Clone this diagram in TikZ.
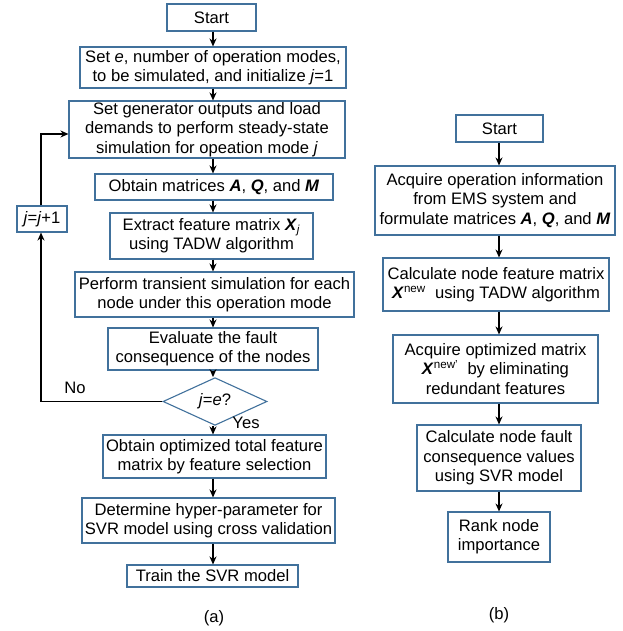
\documentclass[tikz,border=0pt]{standalone}
\usepackage{fontspec}
\setmainfont{Liberation Sans}
\usetikzlibrary{shapes.geometric,arrows.meta}
\definecolor{boxblue}{RGB}{65,113,156}
\newcommand{\bi}[1]{\textbf{\textit{#1}}}
\begin{document}
\begin{tikzpicture}[x=1pt,y=-1pt,
  txt/.style={font={\fontsize{16.6}{19.4}\selectfont}},
  box/.style={txt,draw=boxblue,line width=1.1pt,align=center,inner sep=0pt,fill=white},
  dia/.style={txt,draw=boxblue,line width=1.1pt,diamond,inner sep=0pt,fill=white},
  arr/.style={draw=black,line width=1.1pt,-{Stealth[length=8pt,width=7pt]}}]
\useasboundingbox (0,0) rectangle (622,631);
% left column
\coordinate (spine) at (213,0);
\node[box,minimum width=89,minimum height=27] (a1) at (211.5,17.5) {Start};
\node[box,minimum width=266,minimum height=41] (a2) at (213,67.5) {Set \textit{e}, number of operation modes,\\to be simulated, and initialize \textit{j}=1};
\node[box,minimum width=276,minimum height=57] (a3) at (207,129.5) {Set generator outputs and load\\demands to perform steady-state\\simulation for opeation mode \textit{j}};
\node[box,minimum width=238,minimum height=26] (a4) at (214,187) {Obtain matrices \bi{A}, \bi{Q}, and \bi{M}};
\node[box,minimum width=203,minimum height=46] (a5) at (211.5,236) {Extract feature matrix \bi{X}\textsubscript{\textit{j}}\\using TADW algorithm};
\node[box,minimum width=279,minimum height=45] (a6) at (214.5,294.5) {Perform transient simulation for each\\node under this operation mode};
\node[box,minimum width=210,minimum height=42] (a7) at (213,349) {Evaluate the fault\\consequence of the nodes};
\node[dia,minimum width=104,minimum height=29] (d) at (215,401.5) {\textit{j}=\textit{e}?};
\node[box,minimum width=223,minimum height=43] (a8) at (214.5,456.5) {Obtain optimized total feature\\matrix by feature selection};
\node[box,minimum width=253,minimum height=45] (a9) at (208.5,520.5) {Determine hyper-parameter for\\SVR model using cross validation};
\node[box,minimum width=171,minimum height=22] (a10) at (212.5,576) {Train the SVR model};
\node[box,minimum width=50,minimum height=26] (jb) at (42,219) {\textit{j}=\textit{j}+1};
\node[txt] (no) at (75,388) {No};
\node[txt] (yes) at (246,423) {Yes};
\node[txt] (la) at (214,618) {(a)};
\foreach \u/\v in {a1/a2,a2/a3,a3/a4,a4/a5,a5/a6,a6/a7,a7/d,d/a8,a8/a9,a9/a10}
  \draw[arr] (\u.south -| spine) -- (\v.north -| spine);
\coordinate (c1) at (41,401.5);
\coordinate (c2) at (41,134);
\draw[arr] (d.west) -- (c1) -- (jb.south -| c1);
\draw[arr] (jb.north -| c2) -- (c2) -- (c2 -| a3.west);
% right column
\coordinate (rspine) at (499,0);
\node[box,minimum width=87,minimum height=27] (b1) at (499.5,128.5) {Start};
\node[box,minimum width=240,minimum height=69] (b2) at (495,200.5) {Acquire operation information\\from EMS system and\\formulate matrices \bi{A}, \bi{Q}, and \bi{M}};
\node[box,minimum width=226,minimum height=53] (b3) at (496,284.5) {Calculate node feature matrix\\\bi{X}\textsuperscript{new}\ \ using TADW algorithm};
\node[box,minimum width=205,minimum height=68] (b4) at (495.5,369) {Acquire optimized matrix\\\bi{X}\textsuperscript{new'}\ \ by eliminating\\redundant features};
\node[box,minimum width=164,minimum height=66] (b5) at (499,458) {Calculate node fault\\consequence values\\using SVR model};
\node[box,minimum width=102,minimum height=50] (b6) at (499,537) {Rank node\\importance};
\node[txt] (lb) at (499,615) {(b)};
\foreach \u/\v in {b1/b2,b2/b3,b3/b4,b4/b5,b5/b6}
  \draw[arr] (\u.south -| rspine) -- (\v.north -| rspine);
\end{tikzpicture}
\end{document}
